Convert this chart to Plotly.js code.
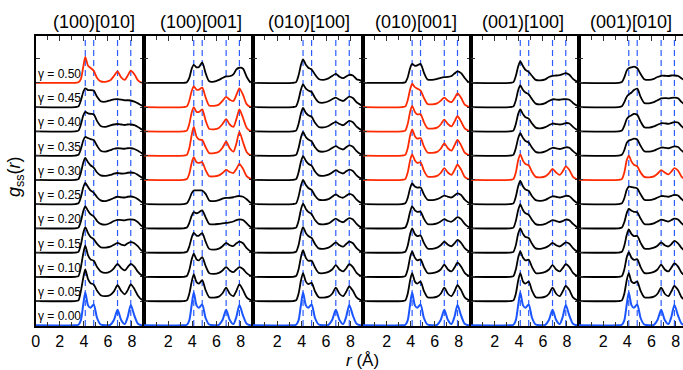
<!DOCTYPE html>
<html>
<head>
<meta charset="utf-8">
<script src="https://cdn.plot.ly/plotly-3.0.1.min.js"></script>
<style>html,body{margin:0;padding:0;background:#fff}#chart{width:683px;height:370px}</style>
</head>
<body>
<div id="chart"></div>
<script>
// r grid (Å)
const R = [0,3.3,3.55,3.75,3.95,4.12,4.35,4.55,4.82,5.1,5.4,5.8,6.2,6.5,6.8,7.1,7.4,7.65,7.9,8.2,8.5,8.8,9.0];
const gammas = ['0.00','0.05','0.10','0.15','0.20','0.25','0.30','0.35','0.40','0.45','0.50'];
const panelTitles = ['(100)[010]','(100)[001]','(010)[100]','(010)[001]','(001)[100]','(001)[010]'];
const refPeaks = [4.12, 4.82, 6.8, 7.9];
// highlighted (red) gamma indices per panel
const redSets = [[10],[6,7,8,9],[],[6,7,8,9],[6],[6]];
// reference curve gamma = 0.00 (same in all panels)
const g000 = [0,0,0.02,0.2,0.85,1.35,0.82,0.72,0.86,0.3,0.03,0,0.02,0.22,0.64,0.22,0.05,0.35,0.84,0.4,0.06,0,0];

const panel1 = [
 g000,
 [0,0,0.03,0.4,0.95,1.3,0.9,0.74,0.68,0.42,0.24,0.2,0.25,0.4,0.65,0.42,0.28,0.45,0.69,0.5,0.22,0.06,0.03],
 [0,0,0.03,0.38,0.95,1.28,0.88,0.72,0.66,0.4,0.22,0.16,0.22,0.35,0.53,0.36,0.26,0.4,0.53,0.42,0.2,0.06,0.03],
 [0,0,0.03,0.32,0.8,1.05,0.8,0.65,0.55,0.36,0.22,0.2,0.24,0.32,0.4,0.33,0.3,0.38,0.43,0.38,0.25,0.08,0.03],
 [0,0,0.03,0.28,0.7,0.9,0.72,0.58,0.49,0.3,0.18,0.15,0.22,0.3,0.35,0.34,0.33,0.36,0.37,0.35,0.25,0.1,0.04],
 [0,0,0.03,0.27,0.68,0.87,0.7,0.56,0.47,0.28,0.15,0.12,0.18,0.25,0.3,0.28,0.27,0.3,0.31,0.28,0.2,0.08,0.03],
 [0,0,0.03,0.28,0.7,0.9,0.72,0.6,0.5,0.3,0.18,0.16,0.2,0.25,0.28,0.26,0.26,0.29,0.3,0.28,0.2,0.1,0.05],
 [0,0,0.03,0.26,0.62,0.77,0.72,0.68,0.64,0.4,0.2,0.16,0.22,0.28,0.3,0.29,0.28,0.3,0.3,0.27,0.2,0.1,0.06],
 [0,0,0.03,0.27,0.65,0.8,0.74,0.72,0.7,0.42,0.22,0.18,0.24,0.28,0.3,0.28,0.26,0.28,0.28,0.25,0.18,0.08,0.05],
 [0,0,0.03,0.26,0.62,0.77,0.7,0.7,0.68,0.42,0.24,0.22,0.28,0.32,0.33,0.31,0.28,0.28,0.27,0.22,0.15,0.07,0.04],
 [0,0,0.02,0.15,0.65,1.07,0.7,0.62,0.5,0.2,0.06,0.04,0.1,0.28,0.47,0.22,0.12,0.3,0.5,0.35,0.1,0.01,0]
];
const panel2 = [
 g000,
 [0,0,0.03,0.3,0.8,1.1,0.78,0.72,0.86,0.45,0.16,0.14,0.18,0.32,0.55,0.3,0.2,0.42,0.69,0.45,0.15,0.05,0.03],
 [0,0,0.03,0.28,0.72,0.95,0.72,0.68,0.81,0.45,0.15,0.12,0.16,0.26,0.4,0.26,0.19,0.3,0.4,0.32,0.15,0.05,0.03],
 [0,0,0.03,0.25,0.62,0.81,0.7,0.7,0.8,0.45,0.15,0.12,0.16,0.26,0.4,0.3,0.27,0.38,0.45,0.38,0.18,0.06,0.03],
 [0,0,0.03,0.22,0.52,0.67,0.62,0.66,0.74,0.45,0.18,0.16,0.18,0.2,0.22,0.24,0.28,0.34,0.37,0.34,0.2,0.06,0.03],
 [0,0,0.03,0.2,0.45,0.56,0.56,0.56,0.56,0.42,0.15,0.12,0.16,0.22,0.25,0.26,0.28,0.32,0.33,0.3,0.2,0.06,0.03],
 [0,0,0.03,0.25,0.7,0.93,0.72,0.7,0.72,0.4,0.15,0.14,0.18,0.28,0.41,0.32,0.28,0.45,0.66,0.45,0.15,0.05,0.03],
 [0,0,0.03,0.3,0.85,1.18,0.78,0.66,0.64,0.35,0.1,0.1,0.16,0.32,0.57,0.3,0.16,0.5,0.98,0.55,0.15,0.02,0],
 [0,0,0.03,0.3,0.78,1.0,0.8,0.8,0.9,0.45,0.1,0.08,0.14,0.3,0.5,0.28,0.18,0.5,0.9,0.55,0.15,0.02,0],
 [0,0,0.03,0.26,0.66,0.85,0.72,0.72,0.8,0.4,0.06,0.05,0.1,0.25,0.42,0.3,0.25,0.5,0.77,0.5,0.12,0.01,0],
 [0,0,0.02,0.2,0.58,0.74,0.64,0.65,0.84,0.4,0.06,0.05,0.12,0.2,0.26,0.27,0.35,0.55,0.62,0.58,0.25,0.03,0]
];
const panel3 = [
 g000,
 [0,0,0.03,0.3,0.85,1.15,0.8,0.7,0.75,0.4,0.16,0.14,0.18,0.3,0.55,0.3,0.2,0.38,0.6,0.42,0.15,0.05,0.03],
 [0,0,0.03,0.3,0.82,1.1,0.78,0.66,0.66,0.38,0.16,0.15,0.2,0.3,0.48,0.3,0.22,0.35,0.52,0.4,0.16,0.05,0.03],
 [0,0,0.03,0.3,0.8,1.05,0.8,0.68,0.6,0.35,0.17,0.15,0.2,0.3,0.42,0.3,0.24,0.35,0.45,0.38,0.18,0.06,0.03],
 [0,0,0.03,0.3,0.78,1.02,0.8,0.68,0.58,0.34,0.18,0.16,0.2,0.3,0.4,0.3,0.25,0.34,0.42,0.36,0.18,0.06,0.03],
 [0,0,0.03,0.3,0.76,1.0,0.78,0.66,0.58,0.34,0.18,0.16,0.2,0.3,0.4,0.3,0.26,0.34,0.42,0.36,0.18,0.07,0.04],
 [0,0,0.03,0.3,0.75,0.98,0.78,0.66,0.58,0.34,0.18,0.16,0.21,0.3,0.4,0.31,0.26,0.35,0.42,0.36,0.18,0.07,0.04],
 [0,0,0.03,0.3,0.75,0.97,0.76,0.66,0.58,0.34,0.18,0.16,0.22,0.31,0.39,0.3,0.25,0.34,0.42,0.36,0.18,0.07,0.04],
 [0,0,0.03,0.3,0.74,0.96,0.76,0.66,0.6,0.35,0.18,0.16,0.22,0.31,0.39,0.3,0.25,0.34,0.43,0.37,0.19,0.08,0.04],
 [0,0,0.03,0.3,0.72,0.93,0.76,0.68,0.62,0.38,0.2,0.18,0.24,0.32,0.39,0.3,0.25,0.34,0.43,0.37,0.2,0.1,0.05],
 [0,0,0.03,0.3,0.74,0.97,0.74,0.62,0.55,0.34,0.16,0.12,0.18,0.28,0.37,0.25,0.19,0.26,0.33,0.3,0.15,0.1,0.05]
];
const panel4 = [
 g000,
 [0,0,0.03,0.3,0.85,1.15,0.8,0.72,0.8,0.42,0.16,0.14,0.18,0.3,0.55,0.3,0.2,0.4,0.65,0.45,0.15,0.05,0.03],
 [0,0,0.03,0.3,0.8,1.05,0.78,0.68,0.72,0.4,0.16,0.15,0.2,0.3,0.5,0.3,0.22,0.38,0.58,0.42,0.16,0.05,0.03],
 [0,0,0.03,0.28,0.75,1.0,0.76,0.68,0.7,0.4,0.17,0.15,0.2,0.3,0.45,0.32,0.26,0.38,0.52,0.4,0.18,0.06,0.03],
 [0,0,0.03,0.26,0.68,0.9,0.74,0.68,0.68,0.4,0.18,0.16,0.2,0.28,0.38,0.3,0.27,0.36,0.46,0.38,0.18,0.06,0.03],
 [0,0,0.03,0.25,0.65,0.85,0.72,0.68,0.68,0.4,0.18,0.16,0.2,0.27,0.35,0.3,0.27,0.35,0.44,0.37,0.18,0.06,0.03],
 [0,0,0.03,0.3,0.8,1.05,0.8,0.7,0.72,0.38,0.14,0.12,0.16,0.28,0.48,0.3,0.2,0.4,0.62,0.42,0.12,0.03,0.01],
 [0,0,0.03,0.3,0.82,1.08,0.8,0.7,0.72,0.38,0.13,0.11,0.15,0.28,0.5,0.3,0.2,0.42,0.65,0.42,0.12,0.03,0.01],
 [0,0,0.03,0.3,0.8,1.05,0.8,0.7,0.7,0.38,0.13,0.11,0.15,0.28,0.48,0.3,0.2,0.4,0.62,0.4,0.12,0.03,0.01],
 [0,0,0.03,0.28,0.72,0.96,0.82,0.76,0.68,0.38,0.13,0.11,0.15,0.26,0.39,0.26,0.2,0.36,0.56,0.38,0.1,0.02,0],
 [0,0,0.02,0.22,0.6,0.78,0.7,0.72,0.78,0.42,0.14,0.12,0.16,0.2,0.23,0.24,0.28,0.38,0.47,0.4,0.2,0.03,0]
];
const panel5 = [
 g000,
 [0,0,0.03,0.3,0.85,1.15,0.8,0.72,0.8,0.42,0.16,0.14,0.18,0.3,0.55,0.3,0.2,0.4,0.62,0.45,0.15,0.05,0.03],
 [0,0,0.03,0.3,0.8,1.05,0.78,0.68,0.7,0.4,0.16,0.15,0.2,0.3,0.48,0.3,0.22,0.36,0.52,0.4,0.16,0.05,0.03],
 [0,0,0.03,0.3,0.78,1.0,0.76,0.64,0.6,0.36,0.17,0.15,0.2,0.28,0.4,0.3,0.25,0.33,0.42,0.36,0.18,0.06,0.03],
 [0,0,0.03,0.3,0.76,0.98,0.74,0.62,0.56,0.34,0.17,0.14,0.18,0.26,0.34,0.3,0.26,0.3,0.36,0.33,0.18,0.06,0.03],
 [0,0,0.03,0.3,0.74,0.95,0.72,0.6,0.54,0.32,0.16,0.13,0.17,0.25,0.32,0.3,0.27,0.3,0.34,0.32,0.18,0.06,0.03],
 [0,0,0.03,0.3,0.82,1.05,0.78,0.65,0.6,0.32,0.12,0.1,0.14,0.26,0.45,0.3,0.2,0.35,0.55,0.4,0.12,0.03,0.01],
 [0,0,0.03,0.3,0.72,0.92,0.72,0.6,0.54,0.32,0.15,0.12,0.17,0.25,0.32,0.3,0.27,0.3,0.34,0.32,0.18,0.07,0.04],
 [0,0,0.03,0.3,0.72,0.9,0.7,0.58,0.52,0.32,0.15,0.12,0.17,0.25,0.32,0.3,0.28,0.3,0.34,0.32,0.18,0.07,0.04],
 [0,0,0.03,0.28,0.7,0.89,0.7,0.6,0.52,0.32,0.14,0.11,0.16,0.25,0.32,0.31,0.3,0.32,0.33,0.3,0.17,0.07,0.04],
 [0,0,0.03,0.28,0.68,0.88,0.68,0.53,0.45,0.28,0.12,0.1,0.14,0.24,0.29,0.3,0.32,0.36,0.4,0.33,0.16,0.06,0.03]
];
const panel6 = [
 g000,
 [0,0,0.03,0.3,0.85,1.15,0.8,0.74,0.8,0.42,0.16,0.14,0.18,0.3,0.55,0.3,0.2,0.4,0.62,0.45,0.15,0.05,0.03],
 [0,0,0.03,0.3,0.8,1.02,0.78,0.7,0.72,0.4,0.16,0.15,0.2,0.3,0.5,0.3,0.22,0.38,0.55,0.42,0.16,0.05,0.03],
 [0,0,0.03,0.28,0.72,0.95,0.76,0.68,0.68,0.4,0.17,0.15,0.2,0.28,0.42,0.3,0.25,0.35,0.48,0.38,0.18,0.06,0.03],
 [0,0,0.03,0.25,0.62,0.8,0.72,0.68,0.66,0.4,0.18,0.16,0.2,0.28,0.36,0.32,0.28,0.34,0.4,0.36,0.2,0.08,0.04],
 [0,0,0.03,0.24,0.58,0.72,0.7,0.68,0.64,0.4,0.18,0.16,0.2,0.27,0.33,0.32,0.3,0.34,0.38,0.35,0.2,0.08,0.04],
 [0,0,0.03,0.3,0.8,1.0,0.75,0.62,0.55,0.3,0.12,0.1,0.14,0.25,0.4,0.3,0.22,0.34,0.48,0.38,0.12,0.03,0.01],
 [0,0,0.03,0.22,0.52,0.62,0.66,0.7,0.66,0.4,0.18,0.16,0.2,0.27,0.33,0.32,0.3,0.34,0.38,0.35,0.2,0.09,0.05],
 [0,0,0.03,0.22,0.5,0.6,0.66,0.72,0.68,0.4,0.17,0.15,0.2,0.27,0.33,0.33,0.31,0.34,0.38,0.36,0.2,0.09,0.05],
 [0,0,0.03,0.2,0.42,0.52,0.6,0.7,0.76,0.42,0.17,0.15,0.2,0.28,0.36,0.37,0.36,0.38,0.39,0.36,0.2,0.09,0.05],
 [0,0,0.03,0.22,0.5,0.6,0.64,0.67,0.6,0.36,0.15,0.12,0.16,0.24,0.29,0.29,0.28,0.3,0.3,0.28,0.18,0.08,0.04]
];
const panels = [panel1, panel2, panel3, panel4, panel5, panel6];

// ---------- layout geometry ----------
const W = 683, H = 370;
const edges = [35.7, 144, 252.7, 362.7, 470.7, 579, 683];
const xMax = [9, 9, 9, 9, 9, 8.61];
const titleX = [94, 201, 309, 416, 523, 631];
const FONT = 'Liberation Sans, Arial, Helvetica, sans-serif';
const BLACK = '#000000', RED = '#ff2a00', BLUE = '#1a55ff', DASH = '#2c5cff';

const traces = [];
const layout = {
  width: W, height: H,
  margin: {l: 0, r: 0, t: 36, b: 44},
  paper_bgcolor: '#fff', plot_bgcolor: '#fff',
  showlegend: false,
  font: {family: FONT, color: '#000', size: 16},
  shapes: [], annotations: []
};

panels.forEach((pd, p) => {
  const xa = p === 0 ? 'x' : 'x' + (p + 1);
  const ya = p === 0 ? 'y' : 'y' + (p + 1);
  pd.forEach((vals, k) => {
    let color = BLACK, width = 1.8;
    if (k === 0) { color = BLUE; width = 2; }
    else if (redSets[p].includes(k)) { color = RED; }
    traces.push({
      type: 'scatter', mode: 'lines', x: R, y: vals.map(v => v + k),
      xaxis: xa, yaxis: ya,
      line: {color: color, width: width, shape: 'spline', smoothing: 0.7},
      hoverinfo: 'skip'
    });
  });
  const xKey = p === 0 ? 'xaxis' : 'xaxis' + (p + 1);
  const yKey = p === 0 ? 'yaxis' : 'yaxis' + (p + 1);
  layout[xKey] = {
    domain: [edges[p] / W, Math.min(1, edges[p + 1] / W)],
    anchor: ya, range: [0, xMax[p]],
    tickmode: 'array', tickvals: p === 0 ? [0, 2, 4, 6, 8] : [2, 4, 6, 8],
    ticks: 'inside', ticklen: 5, tickwidth: 1, tickcolor: '#333',
    minor: {tickmode: 'array', tickvals: [1, 3, 5, 7, 9], ticks: 'inside', ticklen: 4, tickcolor: '#333'},
    showline: true, linecolor: '#000', linewidth: 1.8, mirror: 'ticks',
    showgrid: false, zeroline: false,
    tickfont: {size: 16, family: FONT, color: '#000'}
  };
  layout[yKey] = {
    domain: [0, 1], anchor: xa, range: [-0.03, 11.93],
    tickmode: 'array', tickvals: [0,1,2,3,4,5,6,7,8,9,10,11],
    ticks: 'inside', ticklen: 4, tickcolor: '#333',
    showticklabels: false,
    showline: true, linecolor: '#000', linewidth: 1.8, mirror: p === 5 ? false : 'ticks',
    showgrid: false, zeroline: false
  };
  refPeaks.forEach(r => {
    layout.shapes.push({
      type: 'line', xref: xa, yref: 'paper', x0: r, x1: r, y0: 0, y1: 1,
      line: {color: DASH, width: 1.2, dash: '6px,4px'}, layer: 'below'
    });
  });
  layout.annotations.push({
    xref: 'paper', yref: 'paper', x: titleX[p] / W, y: 1 + 14 / 290,
    xanchor: 'center', yanchor: 'middle', showarrow: false,
    text: panelTitles[p], font: {size: 18, family: FONT, color: '#000'}
  });
});

// gamma labels (panel 1)
gammas.forEach((g, k) => {
  layout.annotations.push({
    xref: 'x', yref: 'y', x: 0.04, y: k + 0.37,
    xanchor: 'left', yanchor: 'middle', showarrow: false,
    text: 'γ = ' + g, font: {size: 12, family: FONT, color: '#000'}
  });
});

// axis titles
layout.annotations.push({
  xref: 'paper', yref: 'paper', x: 15 / W, y: (326 - 177) / 290,
  xanchor: 'center', yanchor: 'middle', showarrow: false, textangle: -90,
  text: '<i>g</i><sub>ss</sub>(<i>r</i>)', font: {size: 18, family: FONT, color: '#000'}
});
layout.annotations.push({
  xref: 'paper', yref: 'paper', x: 362 / W, y: (326 - 360) / 290,
  xanchor: 'center', yanchor: 'middle', showarrow: false,
  text: '<i>r</i> (Å)', font: {size: 17, family: FONT, color: '#000'}
});

Plotly.newPlot('chart', traces, layout, {staticPlot: true, displayModeBar: false});
</script>
</body>
</html>
